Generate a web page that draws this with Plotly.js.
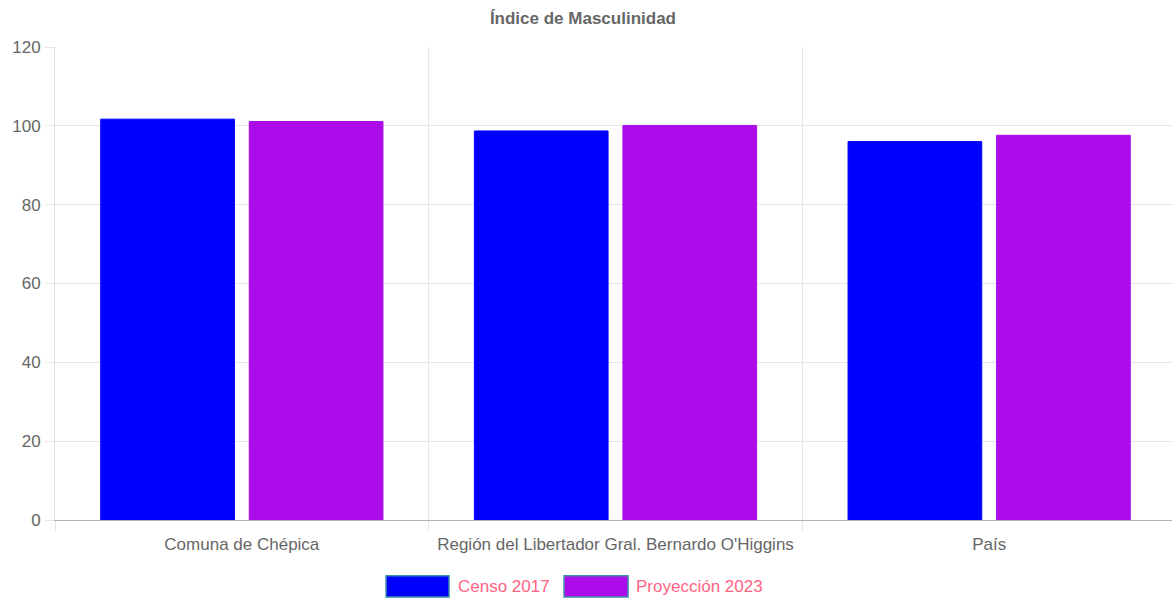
<!DOCTYPE html>
<html>
<head>
<meta charset="utf-8">
<script src="https://cdn.plot.ly/plotly-3.0.1.min.js"></script>
<style>
html,body{margin:0;padding:0;background:#fff;overflow:hidden;}
#chart{width:1176px;height:600px;}
</style>
</head>
<body>
<div id="chart"></div>
<script>
const chartTitle = "Índice de Masculinidad";
const categories = ["Comuna de Chépica", "Región del Libertador Gral. Bernardo O'Higgins", "País"];
const seriesNames = ["Censo 2017", "Proyección 2023"];
const censo2017 = [101.7, 98.7, 96.0];
const proyeccion2023 = [101.1, 100.1, 97.6];
const seriesColors = ["#0000ff", "#ab0ce9"];
const yTicks = [0, 20, 40, 60, 80, 100, 120];

const FONT = "Liberation Sans, Arial, Helvetica, sans-serif";
const FS = 17;
const seriesValues = [censo2017, proyeccion2023];

const traces = seriesValues.map((vals, i) => ({
  type: "bar",
  name: seriesNames[i],
  x: categories,
  y: vals,
  marker: {color: seriesColors[i], line: {color: seriesColors[i], width: 1}},
  showlegend: false,
  hoverinfo: "x+y+name"
}));

// custom wide legend boxes (Chart.js style)
const legendBoxes = [
  {x0: 0.2953, x1: 0.3515, tx: 0.3577},
  {x0: 0.4541, x1: 0.5112, tx: 0.5165}
];
const shapes = legendBoxes.map((b, i) => ({
  type: "rect", xref: "paper", yref: "paper",
  x0: b.x0, x1: b.x1, y0: -0.163, y1: -0.118,
  fillcolor: seriesColors[i], line: {color: "#3a8fa8", width: 1.5}
}));
const annotations = legendBoxes.map((b, i) => ({
  xref: "paper", yref: "paper", x: b.tx, y: -0.1405,
  xanchor: "left", yanchor: "middle", showarrow: false,
  text: seriesNames[i], font: {family: FONT, size: FS, color: "#ff6384"}
}));

const layout = {
  width: 1176, height: 600,
  margin: {l: 55, r: 0, t: 47, b: 80},
  paper_bgcolor: "#fff", plot_bgcolor: "#fff",
  title: {text: "<b>" + chartTitle + "</b>", x: 0.4957, xanchor: "center", y: 0.97, yanchor: "middle",
          font: {family: FONT, size: FS, color: "#666"}},
  barmode: "group",
  bargap: 0.205,
  bargroupgap: 0.1,
  font: {family: FONT, size: FS, color: "#666"},
  xaxis: {
    type: "category",
    tickson: "boundaries",
    ticks: "outside", ticklen: 10, tickcolor: "#e6e6e6", tickwidth: 1,
    showgrid: true, gridcolor: "#e6e6e6", gridwidth: 1,
    showline: true, linecolor: "#b3b3b3", linewidth: 1,
    tickfont: {family: FONT, size: FS, color: "#666"},
    ticklabelstandoff: 9,
    fixedrange: true
  },
  yaxis: {
    range: [0, 120],
    tickvals: yTicks,
    ticks: "outside", ticklen: 9, tickcolor: "#e6e6e6",
    showgrid: true, gridcolor: "#e6e6e6", gridwidth: 1,
    zeroline: false,
    showline: true, linecolor: "#e0e0e0", linewidth: 1,
    tickfont: {family: FONT, size: FS, color: "#666"},
    ticklabelstandoff: 1,
    fixedrange: true
  },
  shapes: shapes,
  annotations: annotations
};

Plotly.newPlot("chart", traces, layout, {displayModeBar: false, responsive: false});
</script>
</body>
</html>
